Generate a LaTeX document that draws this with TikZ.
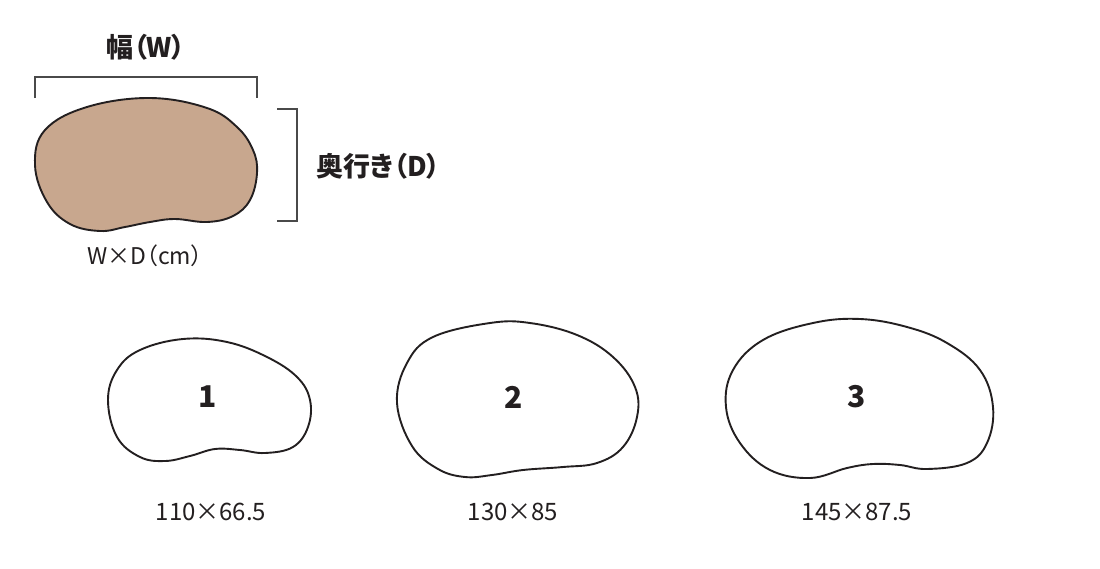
\documentclass[tikz,border=0pt]{standalone}
\usepackage{fontspec}
\newfontfamily\jp[RawFeature=+palt]{Noto Sans CJK JP}
\newfontfamily\numfont{Noto Sans CJK JP}
\definecolor{ink}{HTML}{231F20}
\definecolor{brk}{HTML}{4A4A4A}
\definecolor{tan}{RGB}{200,167,142}
\tikzset{
  bean/.style={draw=ink, line width=1.9pt, line join=round},
  bracket/.style={draw=brk, line width=1.4pt},
  headlbl/.style={font=\jp\bfseries\fontsize{27}{30}\selectfont, text=ink, inner sep=0pt},
  unitlbl/.style={font=\jp\fontsize{23}{26}\selectfont, text=ink, inner sep=0pt},
  sizelbl/.style={font=\numfont\fontsize{24}{27}\selectfont, text=ink, inner sep=0pt},
  numlbl/.style={font=\numfont\bfseries\fontsize{30}{33}\selectfont, text=ink, inner sep=0pt},
}
\begin{document}
\begin{tikzpicture}[x=1pt,y=-1pt]
\useasboundingbox (0,0) rectangle (1100,568);
\fill[white] (0,0) rectangle (1100,568);

% main brown shape
\draw[bean, fill=tan] plot[smooth cycle, tension=0.65] coordinates {
 (35,165) (45,130) (87,107) (150,98) (207,108) (237,127) (253,150) (257,173)
 (250,200) (233,216) (207,222) (175,219) (150,222) (125,227) (100,231) (70,224) (47,202)};

% width bracket
\coordinate (wl) at (35,98);
\coordinate (wr) at (257,98);
\draw[bracket] (wl) -- ++(0,-21) -| (wr);
\node[headlbl] (wlabel) at (146,47) {幅（W）};

% depth bracket
\coordinate (dt) at (277,109);
\coordinate (db) at (277,221);
\draw[bracket] (dt) -- ++(20,0) |- (db);
\node[headlbl, anchor=west] (dlabel) at (316,166) {奥行き（D）};

\node[unitlbl] (unit) at (145,256) {W×D（cm）};

% shape 1
\draw[bean] plot[smooth cycle, tension=0.65] coordinates {
 (108,400) (117,370) (140,350) (183,339) (227,342) (267,357) (297,377) (310,400)
 (308,427) (293,447) (265,453) (240,450) (215,449) (190,456) (165,461) (140,457) (117,437)};
\node[numlbl] (n1) at (208,397) {1};
\node[sizelbl] (s1) at (211,512) {110×66.5};

% shape 2
\draw[bean] plot[smooth cycle, tension=0.65] coordinates {
 (397,403) (407,363) (433,337) (490,323) (530,323) (577,335) (613,357) (635,387)
 (637,417) (623,447) (597,463) (563,467) (523,470) (492,475) (465,477) (438,469) (412,446)};
\node[numlbl] (n2) at (514,397) {2};
\node[sizelbl] (s2) at (513,512) {130×85};

% shape 3
\draw[bean] plot[smooth cycle, tension=0.65] coordinates {
 (726,407) (733,370) (763,340) (813,323) (860,319) (907,327) (947,343) (980,370)
 (993,407) (987,443) (967,463) (927,469) (900,465) (873,464) (847,468) (810,478) (770,470) (740,443)};
\node[numlbl] (n3) at (857,397) {3};
\node[sizelbl] (s3) at (857,512) {145×87.5};
\end{tikzpicture}
\end{document}
